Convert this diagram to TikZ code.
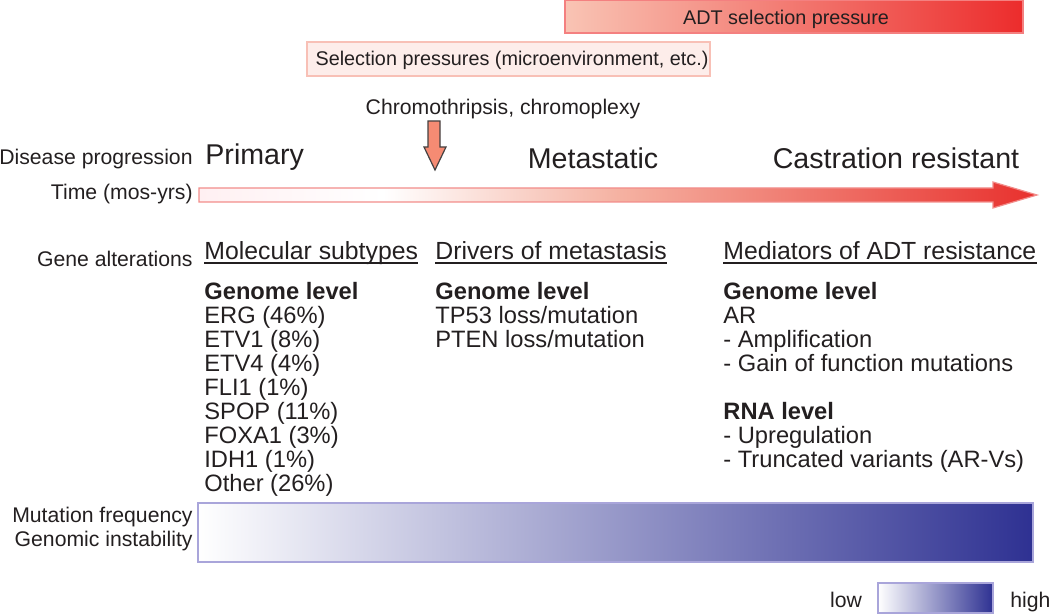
\documentclass[tikz,border=0pt]{standalone}
\usepackage{fontspec}
\setmainfont{Liberation Sans}
\usetikzlibrary{positioning}
\definecolor{ink}{HTML}{231F20}
\definecolor{adtlo}{HTML}{F9C4B4}
\definecolor{adthi}{HTML}{EC2C2C}
\definecolor{selfill}{HTML}{FDEDEA}
\definecolor{selline}{HTML}{F8C0B6}
\definecolor{hotred}{HTML}{E8302D}
\definecolor{midpink}{HTML}{F5B2A2}
\definecolor{palepink}{HTML}{FFF0F2}
\definecolor{shock}{HTML}{F58B73}
\definecolor{indigo}{HTML}{2E3192}
\definecolor{lilac}{HTML}{A9A5DA}
\pgfdeclarehorizontalshading{timefade}{100bp}{color(0bp)=(palepink); color(25bp)=(palepink);
  color(36bp)=(white); color(50bp)=(midpink); color(75bp)=(hotred); color(100bp)=(hotred)}

\begin{document}
\begin{tikzpicture}[x=0.5pt,y=-0.5pt,
  lab/.style={font=\fontsize{10.6}{12}\selectfont,ink,inner sep=0pt},
  press/.style={font=\fontsize{9.9}{12}\selectfont,ink,inner sep=0pt,anchor=base},
  stage/.style={font=\fontsize{14.3}{16}\selectfont,ink,inner sep=0pt,anchor=base},
  head/.style={font=\fontsize{12.4}{14}\selectfont,ink,inner sep=0pt,anchor=base west},
  col/.style={font=\fontsize{11.85}{12}\selectfont,ink,inner sep=0pt,align=left,anchor=north west},
  uline/.style={ink,line width=0.6pt},
  heat/.style={draw=lilac,line width=0.6pt,left color=white,middle color=indigo!45,right color=indigo}]
\useasboundingbox (0,0) rectangle (1050,614);

% selection pressures
\draw[draw=adthi!60,line width=0.6pt,left color=adtlo,right color=adthi] (565,0) rectangle (1023,33);
\node[press] (adt) at (786,25) {ADT selection pressure};
\draw[draw=selline,line width=0.6pt,fill=selfill] (307,42) rectangle (710,76);
\node[press] (micro) at (512,66) {Selection pressures (microenvironment, etc.)};
\node[lab,anchor=base] (chromo) at (503,115) {Chromothripsis, chromoplexy};
\draw[fill=shock,draw=ink!85,line width=0.6pt]
  (428,121) -- (440,121) -- (440,147) -- (446,147) -- (435,170) -- (424,147) -- (428,147) -- cycle;

% disease progression along time
\node[lab,anchor=base east] (prog) at (193,165) {Disease progression};
\node[stage,anchor=base west] (prim) at (205,165) {Primary};
\node[stage] (meta) at (593,169) {Metastatic};
\node[stage] (crpc) at (896,169) {Castration resistant};
\node[lab,anchor=base east] (time) at (193,200) {Time (mos-yrs)};
\draw[shading=timefade,draw=hotred!55,line width=0.6pt]
  (199,188) -- (993,188) -- (993,182) -- (1037,195) -- (993,208) -- (993,202) -- (199,202) -- cycle;

% gene alterations
\node[lab,anchor=base east] (gene) at (193,267) {Gene alterations};
\node[head] (mol) at (204,260) {Molecular subtypes};
\node[head] (drv) at (435,260) {Drivers of metastasis};
\node[head] (med) at (723,260) {Mediators of ADT resistance};
\draw[uline] ([yshift=-1.5pt]mol.base west) -- ([yshift=-1.5pt]mol.base east);
\draw[uline] ([yshift=-1.5pt]drv.base west) -- ([yshift=-1.5pt]drv.base east);
\draw[uline] ([yshift=-1.5pt]med.base west) -- ([yshift=-1.5pt]med.base east);
\node[col] (subs) at (204,282) {\textbf{Genome level}\\ ERG (46\%)\\ ETV1 (8\%)\\ ETV4 (4\%)\\ FLI1 (1\%)\\
  SPOP (11\%)\\ FOXA1 (3\%)\\ IDH1 (1\%)\\ Other (26\%)};
\node[col] (mets) at (435,282) {\textbf{Genome level}\\ TP53 loss/mutation\\ PTEN loss/mutation};
\node[col] (resist) at (723,282) {\textbf{Genome level}\\ AR\\ - Amplification\\ - Gain of function mutations\\[12pt]
  \textbf{RNA level}\\ - Upregulation\\ - Truncated variants (AR-Vs)};

% genomic instability band
\node[lab,align=right,anchor=east] (inst) at (193,529) {Mutation frequency\\ Genomic instability};
\draw[heat] (198,503) rectangle (1033,562);

% legend
\node[lab,anchor=base] (low) at (846,607) {low};
\draw[heat] (878,583) rectangle (993,613);
\node[lab,anchor=base west] (high) at (1010,607) {high};
\end{tikzpicture}
\end{document}
